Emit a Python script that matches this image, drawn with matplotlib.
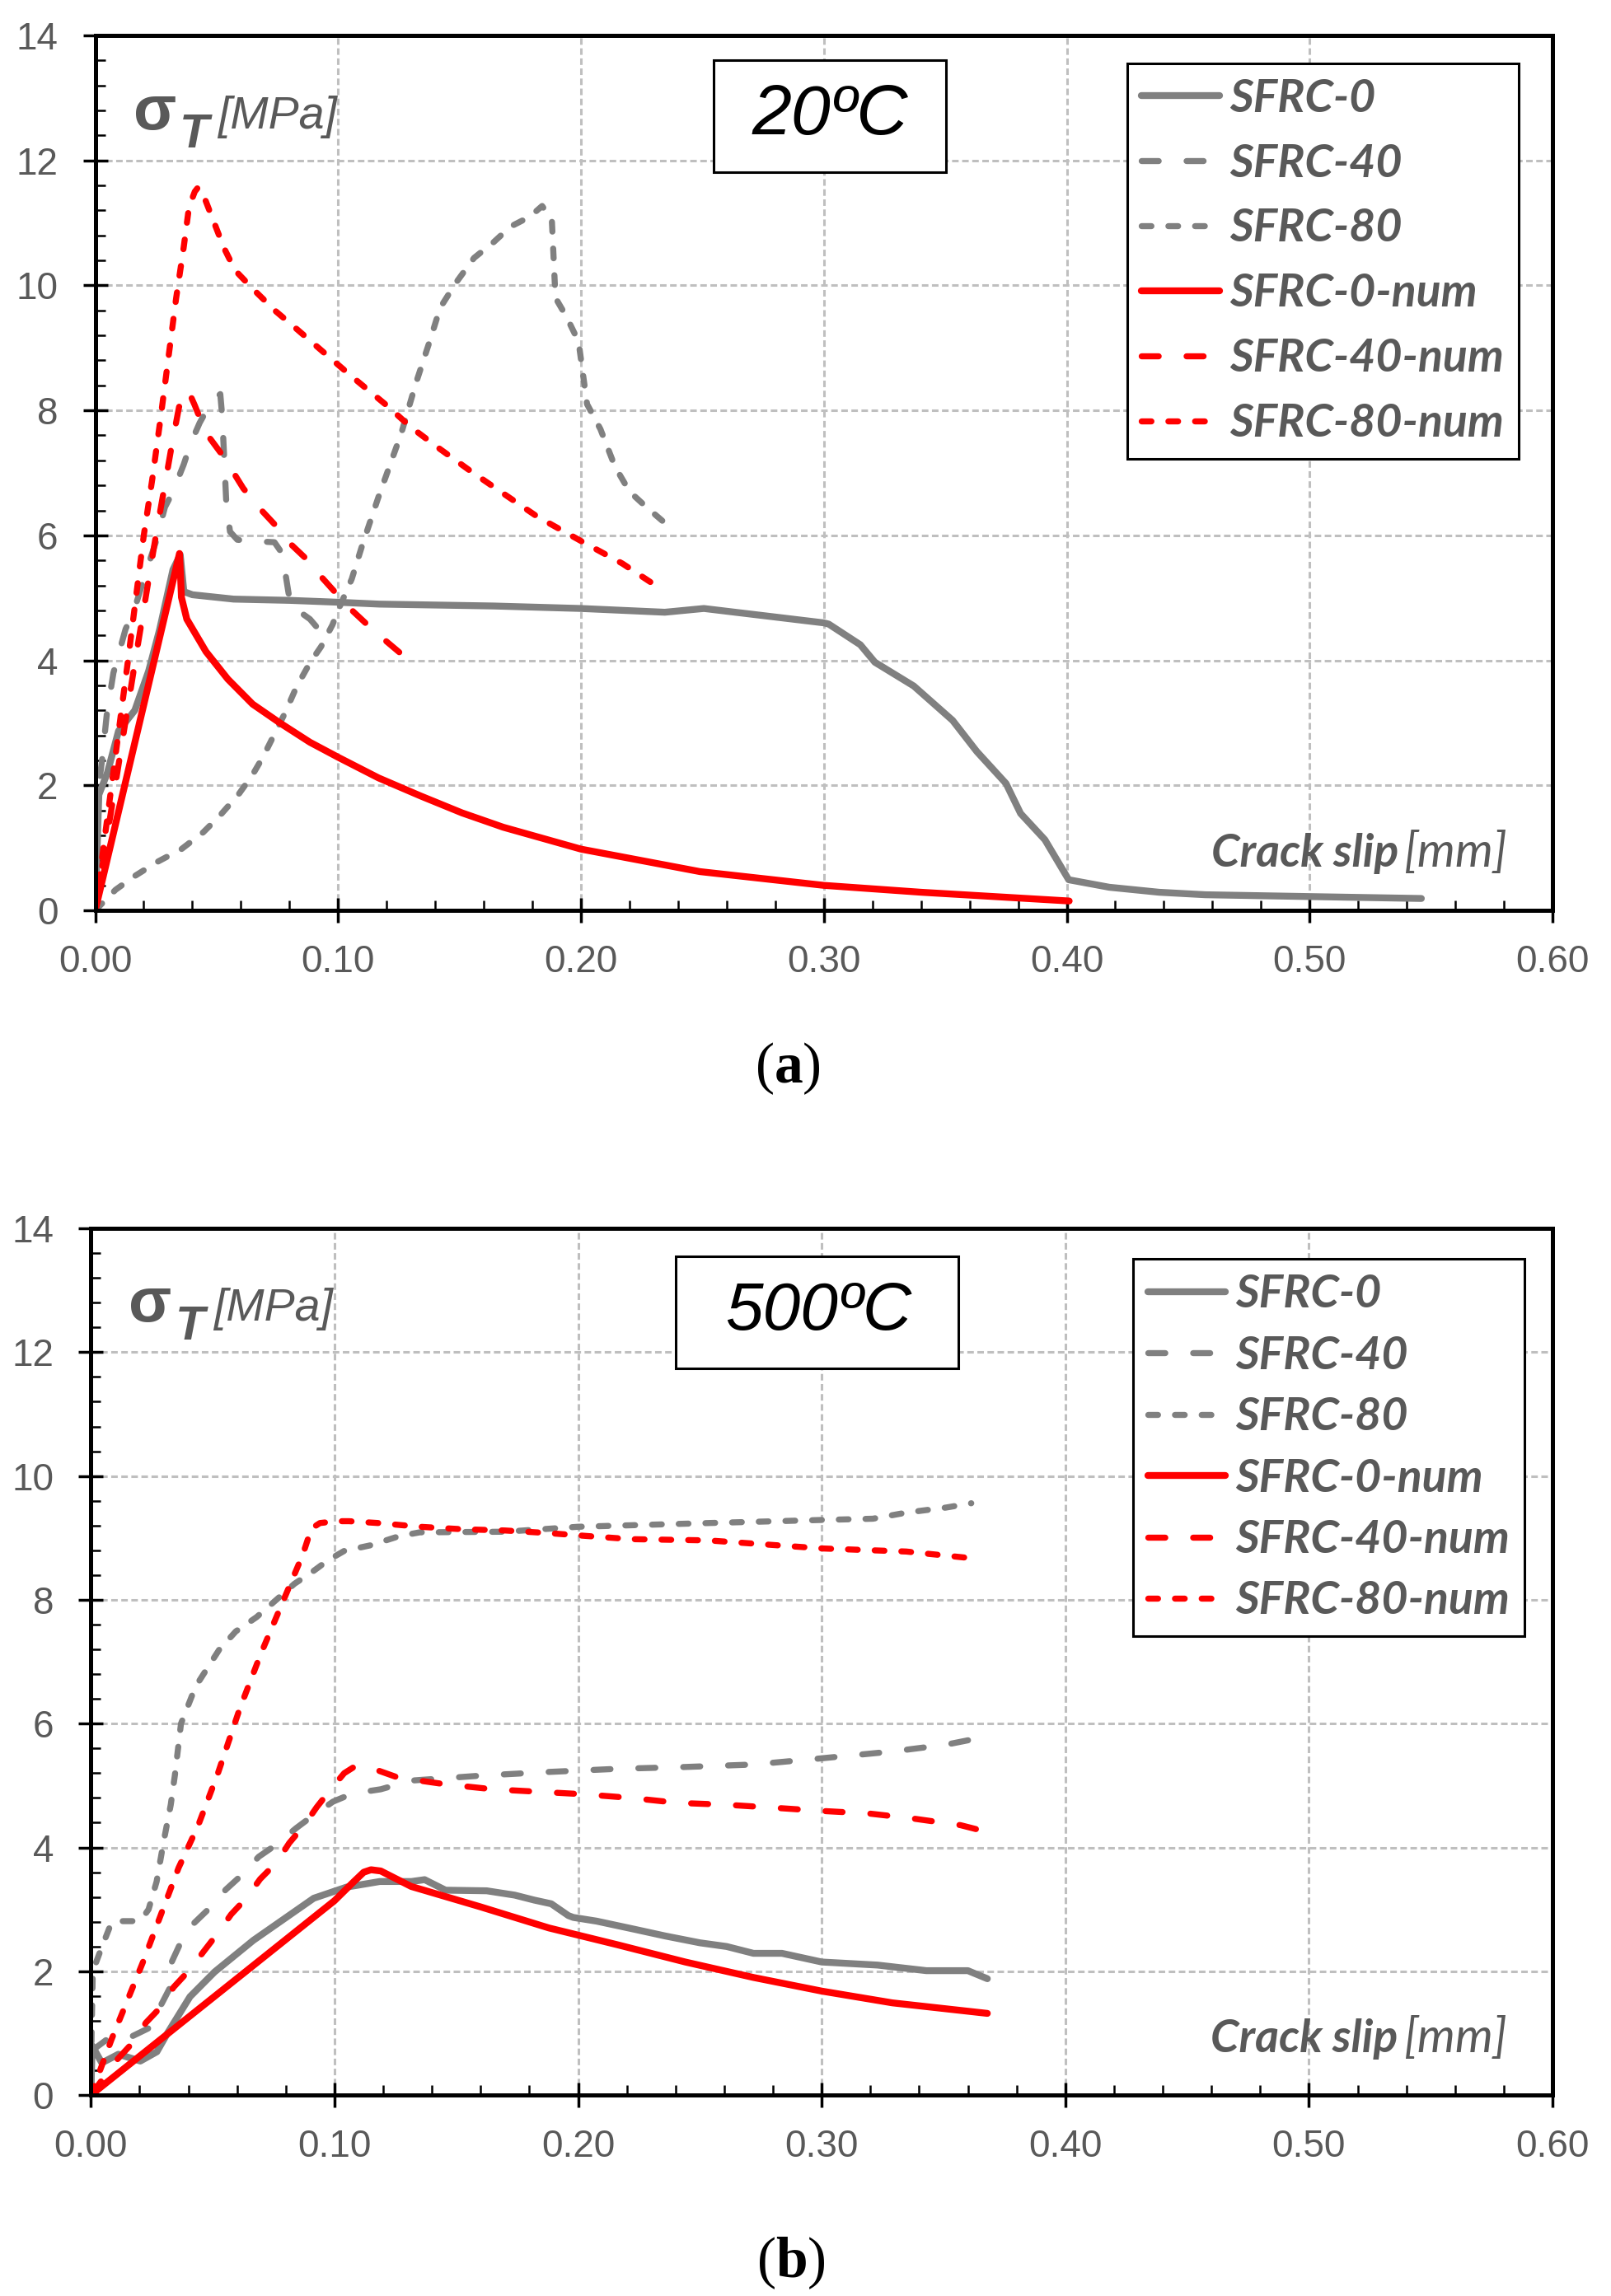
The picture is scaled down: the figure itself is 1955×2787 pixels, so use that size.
import matplotlib
matplotlib.use('Agg')
import matplotlib.pyplot as plt
from matplotlib.patches import Rectangle
from matplotlib.ticker import MultipleLocator, FormatStrFormatter

GRAY = '#808080'
RED = '#ff0000'
TXT = '#595959'

plt.rcParams['font.family'] = ['Liberation Sans', 'DejaVu Sans']
plt.rcParams['mathtext.fontset'] = 'custom'
plt.rcParams['mathtext.rm'] = 'Liberation Serif'
plt.rcParams['mathtext.bf'] = 'Liberation Serif:bold'

labels = ['SFRC-0', 'SFRC-40', 'SFRC-80', 'SFRC-0-num', 'SFRC-40-num', 'SFRC-80-num']

# ---- (a) 20 C ----
a_s0_x = [0, 0.0008, 0.0015, 0.005, 0.0096, 0.0163, 0.022, 0.0265, 0.032, 0.035,
          0.0365, 0.04, 0.057, 0.08, 0.1, 0.117, 0.164, 0.2, 0.2345, 0.2506,
          0.30, 0.302, 0.315, 0.321, 0.337, 0.353, 0.363, 0.375, 0.381, 0.391,
          0.4008, 0.4175, 0.438, 0.457, 0.501, 0.546]
a_s0_y = [0, 1.0, 1.85, 2.2, 2.87, 3.2, 3.83, 4.49, 5.45, 5.69,
          5.1, 5.05, 4.98, 4.96, 4.93, 4.9, 4.87, 4.83, 4.77, 4.83,
          4.60, 4.58, 4.25, 3.97, 3.59, 3.04, 2.54, 2.03, 1.55, 1.13,
          0.49, 0.37, 0.29, 0.25, 0.22, 0.19]

a_s40_x = [0, 0.0005, 0.0015, 0.0028, 0.0048, 0.0075, 0.0125, 0.016, 0.02, 0.025,
           0.0287, 0.032, 0.0364, 0.0394, 0.043, 0.0477, 0.0515, 0.0523, 0.054, 0.0555,
           0.0585, 0.0636, 0.0738, 0.077, 0.0795, 0.0805, 0.0884, 0.0948]
a_s40_y = [0, 1.2, 2.0, 2.4, 3.15, 3.8, 4.5, 4.8, 5.3, 5.9,
           6.45, 6.7, 7.13, 7.48, 7.8, 8.13, 8.26, 7.9, 6.5, 6.06,
           5.93, 5.91, 5.89, 5.71, 5.1, 4.88, 4.66, 4.37]

a_s80_x = [0, 0.0084, 0.0163, 0.0253, 0.0355, 0.0445, 0.0512, 0.0591, 0.0648, 0.0693,
           0.0738, 0.0783, 0.0828, 0.0884, 0.093, 0.0977, 0.1, 0.1056, 0.11, 0.1165,
           0.126, 0.132, 0.138, 0.142, 0.1485, 0.156, 0.164, 0.171, 0.179, 0.184,
           0.188, 0.1895, 0.194, 0.199, 0.2025, 0.208, 0.214, 0.22, 0.227, 0.2345]
a_s80_y = [0, 0.33, 0.55, 0.77, 0.98, 1.25, 1.51, 1.86, 2.17, 2.47,
           2.82, 3.17, 3.57, 3.96, 4.22, 4.57, 4.8, 5.3, 5.85, 6.6,
           7.63, 8.43, 9.14, 9.64, 10.04, 10.44, 10.69, 10.94, 11.1, 11.27,
           11.05, 9.8, 9.5, 9.1, 8.1, 7.7, 7.1, 6.7, 6.45, 6.2]

a_n0_x = [0, 0.0347, 0.0352, 0.0355, 0.0377, 0.0456, 0.0546, 0.0648, 0.076, 0.0884,
          0.1, 0.1166, 0.134, 0.151, 0.168, 0.2, 0.249, 0.3, 0.34, 0.401]
a_n0_y = [0, 5.71, 5.3, 5.01, 4.66, 4.14, 3.70, 3.30, 3.0, 2.69,
          2.45, 2.12, 1.83, 1.56, 1.33, 0.98, 0.62, 0.40, 0.29, 0.15]

a_n40_x = [0, 0.0165, 0.025, 0.0318, 0.0345, 0.0365, 0.0385, 0.041, 0.0454, 0.053,
           0.061, 0.068, 0.074, 0.0805, 0.087, 0.093, 0.0997, 0.106, 0.1126, 0.12, 0.1255]
a_n40_y = [0, 4.0, 6.0, 7.5, 8.05, 8.3, 8.3, 8.08, 7.65, 7.25,
           6.75, 6.42, 6.17, 5.86, 5.62, 5.34, 5.05, 4.79, 4.55, 4.3, 4.12]

a_n80_x = [0, 0.0135, 0.020, 0.0235, 0.027, 0.031, 0.0333, 0.0364, 0.0386, 0.041,
           0.0424, 0.0455, 0.05, 0.053, 0.0576, 0.065, 0.0742, 0.0833, 0.097, 0.106,
           0.12, 0.13, 0.142, 0.1545, 0.165, 0.182, 0.2, 0.217, 0.2334]
a_n80_y = [0, 4.0, 6.0, 6.9, 7.9, 9.1, 9.79, 10.6, 11.25, 11.5,
           11.57, 11.35, 10.9, 10.6, 10.24, 9.94, 9.59, 9.29, 8.83, 8.53,
           8.08, 7.73, 7.38, 7.03, 6.75, 6.3, 5.91, 5.55, 5.13]

# ---- (b) 500 C ----
b_s0_x = [0, 0.0005, 0.0045, 0.0113, 0.0203, 0.0271, 0.0316, 0.0407, 0.0508, 0.0667,
          0.0915, 0.105, 0.1186, 0.1316, 0.137, 0.1456, 0.1625, 0.174, 0.182, 0.189,
          0.196, 0.198, 0.2076, 0.223, 0.2358, 0.25, 0.261, 0.272, 0.2837, 0.30,
          0.323, 0.343, 0.36, 0.368]
b_s0_y = [0, 0.8, 0.52, 0.66, 0.55, 0.70, 1.01, 1.59, 1.99, 2.50,
          3.18, 3.36, 3.45, 3.45, 3.48, 3.31, 3.30, 3.23, 3.15, 3.09,
          2.90, 2.87, 2.81, 2.68, 2.57, 2.46, 2.40, 2.29, 2.29, 2.15,
          2.10, 2.01, 2.01, 1.88]

b_s40_x = [0, 0.0005, 0.0073, 0.0164, 0.0237, 0.0294, 0.0328, 0.0333, 0.0367, 0.0424,
           0.049, 0.0554, 0.0621, 0.0689, 0.0763, 0.0842, 0.091, 0.0994, 0.1073, 0.119,
           0.1315, 0.16, 0.188, 0.216, 0.244, 0.272, 0.30, 0.329, 0.351, 0.365]
b_s40_y = [0, 0.72, 0.92, 0.94, 1.08, 1.5, 1.76, 2.16, 2.45, 2.78,
           3.03, 3.32, 3.56, 3.85, 4.05, 4.31, 4.51, 4.74, 4.87, 4.94,
           5.08, 5.16, 5.22, 5.27, 5.30, 5.34, 5.44, 5.55, 5.66, 5.77]

b_s80_x = [0, 0.0003, 0.0008, 0.004, 0.008, 0.0102, 0.017, 0.021, 0.0237, 0.027,
           0.03, 0.0328, 0.0345, 0.037, 0.043, 0.0526, 0.0595, 0.068, 0.0767, 0.0836,
           0.0905, 0.0974, 0.104, 0.1147, 0.1267, 0.135, 0.17, 0.2, 0.2534, 0.3,
           0.321, 0.335, 0.351, 0.3614]
b_s80_y = [0, 1.0, 2.0, 2.34, 2.74, 2.81, 2.81, 2.85, 3.0, 3.45,
           4.12, 4.69, 5.17, 6.0, 6.6, 7.19, 7.49, 7.72, 8.02, 8.26,
           8.44, 8.64, 8.79, 8.88, 9.03, 9.09, 9.1, 9.18, 9.24, 9.29,
           9.31, 9.41, 9.49, 9.56]

b_n0_x = [0, 0.1, 0.108, 0.112, 0.115, 0.119, 0.1315, 0.16, 0.188, 0.216,
          0.244, 0.272, 0.30, 0.329, 0.368]
b_n0_y = [0, 3.14, 3.45, 3.6, 3.64, 3.62, 3.37, 3.04, 2.70, 2.43,
          2.15, 1.90, 1.68, 1.49, 1.32]

b_n40_x = [0, 0.0107, 0.0175, 0.0226, 0.0294, 0.0339, 0.0407, 0.0463, 0.052, 0.0576,
           0.0638, 0.0695, 0.0763, 0.0814, 0.0876, 0.0927, 0.0989, 0.104, 0.108, 0.112,
           0.116, 0.126, 0.1456, 0.165, 0.202, 0.2217, 0.241, 0.261, 0.281, 0.30,
           0.319, 0.337, 0.357, 0.368]
b_n40_y = [0, 0.57, 0.86, 1.17, 1.45, 1.74, 2.03, 2.32, 2.61, 2.92,
           3.18, 3.49, 3.76, 4.07, 4.36, 4.65, 4.96, 5.2, 5.3, 5.33,
           5.27, 5.13, 5.02, 4.94, 4.86, 4.80, 4.72, 4.69, 4.64, 4.59,
           4.55, 4.47, 4.36, 4.25]

b_n80_x = [0, 0.0085, 0.0215, 0.036, 0.044, 0.052, 0.0611, 0.0698, 0.08, 0.087,
           0.0905, 0.094, 0.1009, 0.106, 0.118, 0.135, 0.1526, 0.17, 0.187, 0.204,
           0.2216, 0.2534, 0.3, 0.3347, 0.3644]
b_n80_y = [0, 0.9, 2.16, 3.67, 4.35, 5.18, 6.24, 7.13, 8.08, 8.73,
           9.15, 9.24, 9.27, 9.27, 9.24, 9.18, 9.14, 9.12, 9.08, 9.03,
           8.98, 8.96, 8.83, 8.78, 8.66]

LW_SOLID = 6
LW_DASH = 5.3
STYLE40 = (0, (2.8, 4.6))
STYLE80 = (0, (1.6, 2.8))
LEG_FONT = dict(family='Lato', weight='bold', style='italic', size=40)


def draw(ax, series):
    colors = [GRAY, GRAY, GRAY, RED, RED, RED]
    styles = ['-', STYLE40, STYLE80, '-', STYLE40, STYLE80]
    for (x, y), c, ls, lab in zip(series, colors, styles, labels):
        lw = LW_SOLID if ls == '-' else LW_DASH
        ax.plot(x, y, color=c, lw=lw, ls=ls, label=lab,
                dash_capstyle='round', solid_capstyle='round',
                solid_joinstyle='round', dash_joinstyle='round')


def style_axes(ax):
    ax.set_xlim(0, 0.6)
    ax.set_ylim(0, 14)
    ax.xaxis.set_major_locator(MultipleLocator(0.1))
    ax.xaxis.set_minor_locator(MultipleLocator(0.02))
    ax.yaxis.set_major_locator(MultipleLocator(2))
    ax.yaxis.set_minor_locator(MultipleLocator(0.4))
    ax.xaxis.set_major_formatter(FormatStrFormatter('%.2f'))
    ax.grid(which='major', color='#bfbfbf', lw=2.2, ls=(0, (2.6, 1.4)))
    ax.set_axisbelow(True)
    ax.tick_params(which='major', direction='inout', length=21, width=2.5,
                   color='k', labelcolor=TXT, labelsize=33)
    ax.tick_params(axis='y', which='major', pad=22)
    ax.tick_params(axis='x', which='major', pad=19)
    ax.tick_params(which='minor', direction='in', length=8.5, width=1.8, color='k')
    for sp in ax.spines.values():
        sp.set_linewidth(3.6)
        sp.set_color('k')


def annotate(ax, temp, temp_size, box, text_xy, leg_anchor, leg_spacing):
    x0, y0, x1, y1 = box
    ax.add_patch(Rectangle((x0, y0), x1 - x0, y1 - y0, transform=ax.transAxes,
                           fc='white', ec='k', lw=2.2, zorder=5))
    ax.text(text_xy[0], text_xy[1], temp, transform=ax.transAxes, ha='center',
            va='center', fontsize=temp_size, style='italic', color='k', zorder=6)
    ax.text(0.026, 0.893, '\u03c3', transform=ax.transAxes, fontsize=55,
            fontweight='bold', color=TXT, va='baseline')
    ax.text(0.058, 0.872, 'T', transform=ax.transAxes, fontsize=42,
            fontweight='bold', style='italic', color=TXT, va='baseline')
    ax.text(0.084, 0.894, '[MPa]', transform=ax.transAxes, fontsize=40,
            style='italic', color=TXT, va='baseline')
    ax.text(0.766, 0.05, 'Crack slip', transform=ax.transAxes, fontsize=40,
            family='Lato', fontweight='bold', style='italic', color=TXT,
            ha='left', va='baseline')
    ax.text(0.969, 0.05, '[mm]', transform=ax.transAxes, fontsize=42,
            family='Lato', style='italic', color=TXT, ha='right', va='baseline')
    leg = ax.legend(loc='upper left', bbox_to_anchor=leg_anchor, borderaxespad=0,
                    prop=LEG_FONT, labelcolor=TXT, fancybox=False, edgecolor='k',
                    framealpha=1, borderpad=0.32, handlelength=1.7,
                    handletextpad=0.22, labelspacing=leg_spacing)
    leg.get_frame().set_linewidth(2.2)
    leg.set_zorder(6)


fig = plt.figure(figsize=(19.55, 27.87), dpi=100)
ax1 = fig.add_axes([0.0591, 0.6035, 0.9046, 0.3811])
ax2 = fig.add_axes([0.0564, 0.0875, 0.9073, 0.3775])

draw(ax1, [(a_s0_x, a_s0_y), (a_s40_x, a_s40_y), (a_s80_x, a_s80_y),
           (a_n0_x, a_n0_y), (a_n40_x, a_n40_y), (a_n80_x, a_n80_y)])
draw(ax2, [(b_s0_x, b_s0_y), (b_s40_x, b_s40_y), (b_s80_x, b_s80_y),
           (b_n0_x, b_n0_y), (b_n40_x, b_n40_y), (b_n80_x, b_n80_y)])

for ax in (ax1, ax2):
    style_axes(ax)

annotate(ax1, '20ºC', 62, (0.4244, 0.8437, 0.5838, 0.972), (0.504, 0.9077),
         (0.708, 0.968), 0.52)
annotate(ax2, '500ºC', 59, (0.400, 0.8384, 0.5935, 0.9673), (0.498, 0.903),
         (0.713, 0.9644), 0.44)

fig.text(0.489, 0.5346, r'($\mathbf{a}$)', ha='center', va='center',
         fontsize=50, family='Liberation Serif')
fig.text(0.491, 0.0144, r'($\mathbf{b}$)', ha='center', va='center',
         fontsize=50, family='Liberation Serif')

fig.savefig('out.png', dpi=100)
